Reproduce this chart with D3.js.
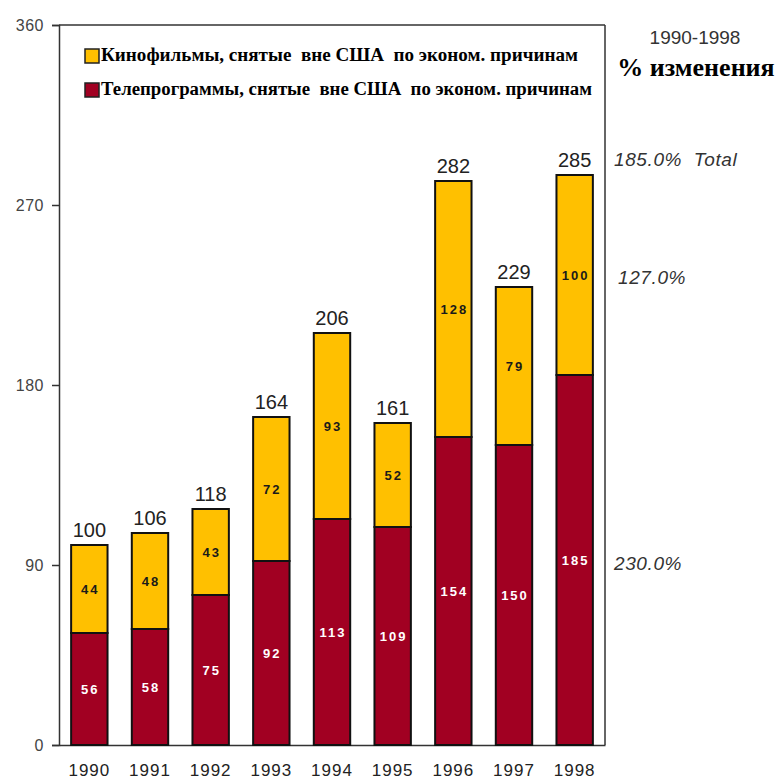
<!DOCTYPE html>
<html>
<head>
<meta charset="utf-8">
<script src="https://cdn.jsdelivr.net/npm/d3@7"></script>
<style>
  body { margin: 0; background: #fff; }
</style>
</head>
<body>
<div id="chart"></div>
<script>
// Data
const years = ["1990", "1991", "1992", "1993", "1994", "1995", "1996", "1997", "1998"];
const tvValues = [56, 58, 75, 92, 113, 109, 154, 150, 185];
const filmValues = [44, 48, 43, 72, 93, 52, 128, 79, 100];
const totals = [100, 106, 118, 164, 206, 161, 282, 229, 285];
const yTicks = [0, 90, 180, 270, 360];
const seriesNames = ["Кинофильмы, снятые  вне США  по эконом. причинам", "Телепрограммы, снятые  вне США  по эконом. причинам"];
const changeLabels = ["185.0%  Total", "127.0%", "230.0%"];
const changeLevels = [293, 234, 91]; // value level where each note sits

function drawChart() {
  const width = 779;
  const height = 781;
  const margin = { top: 25, right: 174, bottom: 36, left: 59 };

  const svg = d3.select("#chart")
    .append("svg")
    .attr("width", width)
    .attr("height", height)
    .style("background", "#ffffff");

  const x = d3.scaleBand()
    .domain(years)
    .range([margin.left, width - margin.right])
    .paddingInner(0.4)
    .paddingOuter(0.2);

  const y = d3.scaleLinear()
    .domain([0, 360])
    .range([height - margin.bottom, margin.top]);

  const yellow = "#ffc000";
  const red = "#a10022";

  // Stack the two series: tv at bottom, films on top
  const rows = years.map((yr, i) => ({ year: yr, tv: tvValues[i], film: filmValues[i], total: totals[i] }));
  const stack = d3.stack().keys(["tv", "film"])(rows);
  const color = { tv: red, film: yellow };
  const labelColor = { tv: "#ffffff", film: "#1a1a1a" };

  // Frame: top and right border
  svg.append("line")
    .attr("x1", margin.left).attr("x2", width - margin.right)
    .attr("y1", y(360)).attr("y2", y(360))
    .attr("stroke", "#333").attr("stroke-width", 1.5);
  svg.append("line")
    .attr("x1", width - margin.right).attr("x2", width - margin.right)
    .attr("y1", y(360)).attr("y2", y(0))
    .attr("stroke", "#333").attr("stroke-width", 1.5);

  // Y axis
  const yAxis = svg.append("g")
    .attr("transform", `translate(${margin.left}, 0)`)
    .call(d3.axisLeft(y).tickValues(yTicks).tickSize(7).tickPadding(8));
  yAxis.select(".domain").attr("stroke", "#333").attr("stroke-width", 1.5);
  yAxis.selectAll(".tick line").attr("stroke", "#333").attr("stroke-width", 1.5);
  yAxis.selectAll("text")
    .style("font-family", "Liberation Sans, Arial, sans-serif")
    .style("font-size", "16px")
    .style("letter-spacing", "0.5px")
    .attr("fill", "#444");

  // X axis (baseline line + labels)
  const xAxis = svg.append("g")
    .attr("transform", `translate(0, ${y(0)})`)
    .call(d3.axisBottom(x).tickSize(0).tickPadding(19));
  xAxis.select(".domain").attr("stroke", "#333").attr("stroke-width", 1.5);
  xAxis.selectAll("text")
    .style("font-family", "Liberation Sans, Arial, sans-serif")
    .style("font-size", "17px")
    .style("letter-spacing", "1px")
    .attr("fill", "#222");

  // Bars
  stack.forEach(layer => {
    const g = svg.append("g");
    g.selectAll("rect")
      .data(layer)
      .join("rect")
      .attr("x", d => x(d.data.year))
      .attr("y", d => y(d[1]))
      .attr("width", x.bandwidth())
      .attr("height", d => y(d[0]) - y(d[1]))
      .attr("fill", color[layer.key])
      .attr("stroke", "#111")
      .attr("stroke-width", 2);

    g.selectAll("text")
      .data(layer)
      .join("text")
      .attr("x", d => x(d.data.year) + x.bandwidth() / 2 + 1)
      .attr("y", d => (y(d[0]) + y(d[1])) / 2)
      .attr("dy", "0.35em")
      .attr("text-anchor", "middle")
      .style("font-family", "Liberation Sans, Arial, sans-serif")
      .style("font-size", "13px")
      .style("font-weight", "bold")
      .style("letter-spacing", "2px")
      .attr("fill", labelColor[layer.key])
      .text(d => d.data[layer.key]);
  });

  // Totals above bars
  svg.append("g").selectAll("text")
    .data(rows)
    .join("text")
    .attr("x", d => x(d.year) + x.bandwidth() / 2)
    .attr("y", d => y(d.total) - 8)
    .attr("text-anchor", "middle")
    .style("font-family", "Liberation Sans, Arial, sans-serif")
    .style("font-size", "20px")
    .attr("fill", "#222")
    .text(d => d.total);

  // Legend inside plot
  const legend = svg.append("g").attr("transform", "translate(85, 49)");
  const legendWidths = [477, 491];
  [yellow, red].forEach((c, i) => {
    legend.append("rect")
      .attr("x", 0).attr("y", i * 34)
      .attr("width", 14).attr("height", 14)
      .attr("fill", c).attr("stroke", "#222").attr("stroke-width", 1.5);
    legend.append("text")
      .attr("x", 16).attr("y", i * 34 + 12)
      .attr("textLength", legendWidths[i])
      .attr("lengthAdjust", "spacingAndGlyphs")
      .style("font-family", "Liberation Serif, Times New Roman, serif")
      .style("font-size", "18px")
      .style("font-weight", "bold")
      .style("white-space", "pre")
      .attr("fill", "#000")
      .text(seriesNames[i]);
  });

  // Right side annotations
  svg.append("text")
    .attr("x", 695).attr("y", 44)
    .attr("text-anchor", "middle")
    .style("font-family", "Liberation Sans, Arial, sans-serif")
    .style("font-size", "19px")
    .attr("fill", "#333")
    .text("1990-1998");
  svg.append("text")
    .attr("x", 696).attr("y", 76)
    .attr("text-anchor", "middle")
    .style("font-family", "Liberation Serif, Times New Roman, serif")
    .style("font-size", "26px")
    .style("font-weight", "bold")
    .attr("fill", "#000")
    .text("% изменения");

  changeLabels.forEach((t, i) => {
    svg.append("text")
      .attr("x", i === 1 ? 618 : 614)
      .attr("y", y(changeLevels[i]))
      .attr("dy", "0.35em")
      .style("font-family", "Liberation Sans, Arial, sans-serif")
      .style("font-size", "19px")
      .style("font-style", "italic")
      .style("letter-spacing", "0.6px")
      .style("white-space", "pre")
      .attr("fill", "#333")
      .text(t);
  });
}

drawChart();
</script>
</body>
</html>
